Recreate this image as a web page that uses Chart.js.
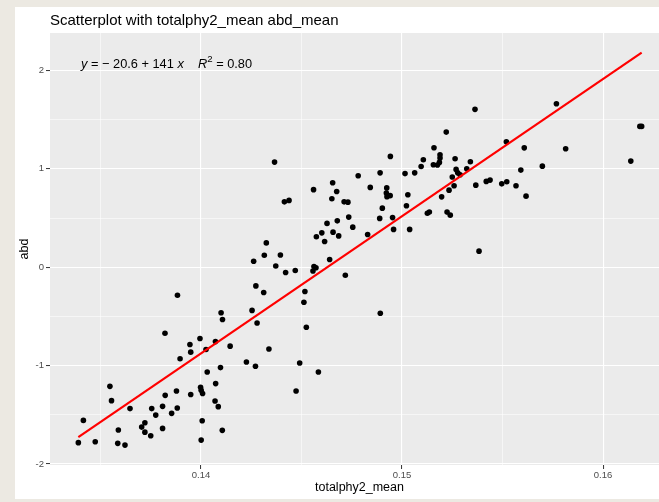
<!DOCTYPE html>
<html><head><meta charset="utf-8">
<script src="https://cdn.jsdelivr.net/npm/chart.js@4/dist/chart.umd.min.js"></script>
<style>
html,body{margin:0;padding:0;background:#ece9e2;overflow:hidden;width:659px;height:502px}
#card{position:absolute;left:15px;top:7px;width:660px;height:492px;background:#fff}
canvas{display:block}
</style></head><body>
<div id="card"><canvas id="c" width="660" height="492"></canvas></div>
<script>
const totalphy2 = [
0.13390,0.13415,0.13474,0.13547,0.13555,0.13589,0.13586,0.13622,0.13647,0.13705,
0.13721,0.13721,0.13750,0.13755,0.13775,0.13809,0.13809,0.13822,0.13854,0.13878,
0.13882,0.13949,0.13998,0.14001,0.14008,0.14006,0.14001,0.14031,0.13821,0.13883,
0.13896,0.13945,0.13949,0.13995,0.14025,0.14072,0.14073,0.14070,0.14086,0.14097,
0.14100,0.14107,0.14106,0.14145,0.14226,0.14254,0.14273,0.14279,0.14271,0.14312,
0.14338,0.14366,0.14415,0.14438,0.14325,0.14315,0.14395,0.14262,0.14372,0.14421,
0.14469,0.14562,0.14572,0.14557,0.14640,0.14718,0.14517,0.14512,0.14524,0.14892,
0.14491,0.14584,0.14473,0.14942,0.14782,0.14891,0.15015,0.14655,0.14560,0.14675,
0.14842,0.14924,0.14922,0.14925,0.14941,0.15029,0.14651,0.14712,0.14731,0.14902,
0.15022,0.14735,0.14889,0.14953,0.14678,0.14627,0.14755,0.15038,0.14958,0.14601,
0.14657,0.14574,0.14685,0.14615,0.14829,
0.15363,0.15220,0.15159,0.15189,0.15189,0.15186,0.15156,0.15176,0.15106,0.15095,
0.15264,0.15340,0.15322,0.15269,0.15277,0.15289,0.15250,0.15063,0.15259,0.15234,
0.15197,0.15367,0.15419,0.15438,0.15496,0.15521,0.15567,0.15519,0.15608,0.15591,
0.15617,0.15126,0.15136,0.15224,0.15240,0.15383,0.15768,0.15814,0.15698,0.16138,
0.16183,0.16192];
const abd = [
-1.783,-1.557,-1.773,-1.211,-1.356,-1.655,-1.790,-1.808,-1.437,-1.625,
-1.580,-1.676,-1.712,-1.437,-1.503,-1.414,-1.638,-1.302,-1.485,-1.258,
-1.431,-1.294,-1.221,-1.251,-1.284,-1.560,-1.757,-1.065,-0.671,-0.285,
-0.931,-0.786,-0.863,-0.724,-0.837,-0.756,-1.183,-1.360,-1.417,-1.020,
-0.463,-0.532,-1.658,-0.802,-0.964,-0.439,-0.190,-0.567,-1.007,-0.257,
-0.831,1.068,0.664,0.679,0.247,0.122,0.124,0.061,0.012,-0.054,
-0.034,0.007,-0.005,-0.038,0.079,-0.081,-0.247,-0.356,-0.610,-0.468,
-0.974,-1.065,-1.258,1.126,0.929,0.959,0.951,0.858,0.788,0.770,
0.811,0.806,0.753,0.717,0.727,0.736,0.695,0.664,0.661,0.600,
0.624,0.509,0.496,0.504,0.471,0.445,0.407,0.384,0.384,0.349,
0.356,0.310,0.318,0.261,0.333,
1.604,1.373,1.214,1.142,1.109,1.065,1.041,1.038,1.092,1.024,
1.102,1.071,1.000,0.994,0.959,0.939,0.916,0.959,0.827,0.783,
0.715,0.834,0.872,0.885,0.847,0.868,0.827,1.275,1.213,0.987,
0.722,0.549,0.560,0.560,0.529,0.163,1.661,1.203,1.027,1.078,
1.431,1.431];
const fitX = [0.13390, 0.16192];
const fitY = [-1.726, 2.180];
const xTicks = [0.135, 0.14, 0.145, 0.15, 0.155, 0.16];
const xMajorLabels = ['0.14', '0.15', '0.16'];
const yTicks = [-2, -1.5, -1, -0.5, 0, 0.5, 1, 1.5, 2];
const yMajorLabels = ['-2', '-1', '0', '1', '2'];
const titleText = 'Scatterplot with totalphy2_mean abd_mean';
const xTitle = 'totalphy2_mean';
const yTitle = 'abd';

const FONT = '"Liberation Sans", Arial, sans-serif';
const isMajorX = v => Math.abs(v * 100 - Math.round(v * 100)) < 1e-6;
const isMajorY = v => Math.abs(v - Math.round(v)) < 1e-6;

const points = totalphy2.map((x, i) => ({x: x, y: abd[i]}));
const fitLine = fitX.map((x, i) => ({x: x, y: fitY[i]}));

const decor = {
  id: 'decor',
  beforeDraw(chart) {
    const {ctx, chartArea: a} = chart;
    ctx.save();
    ctx.fillStyle = '#ebebeb';
    ctx.fillRect(a.left, a.top, a.right - a.left, a.bottom - a.top);
    ctx.restore();
  },
  afterDraw(chart) {
    const {ctx, chartArea: a} = chart;
    ctx.save();
    ctx.fillStyle = '#000';
    ctx.textBaseline = 'middle';
    ctx.font = '15px ' + FONT;
    ctx.textAlign = 'left';
    ctx.fillText(titleText, a.left, 14);
    ctx.font = '12.5px ' + FONT;
    ctx.textAlign = 'center';
    ctx.fillText(xTitle, (a.left + a.right) / 2, 481);
    ctx.save();
    ctx.translate(10, (a.top + a.bottom) / 2);
    ctx.rotate(-Math.PI / 2);
    ctx.fillText(yTitle, 0, 0);
    ctx.restore();
    const fs = 12.8;
    const parts = [
      {t: 'y', it: true}, {t: ' = \u2212 20.6 + 141 '}, {t: 'x', it: true},
      {t: '    '}, {t: 'R', it: true}, {t: '2', sup: true}, {t: ' = 0.80'}
    ];
    let x = a.left + 31;
    const y = a.top + 31;
    ctx.textAlign = 'left';
    for (const p of parts) {
      const size = p.sup ? fs * 0.75 : fs;
      ctx.font = (p.it ? 'italic ' : '') + size + 'px ' + FONT;
      ctx.fillText(p.t, x, p.sup ? y - 5 : y);
      x += ctx.measureText(p.t).width;
    }
    ctx.restore();
  }
};

new Chart(document.getElementById('c'), {
  data: {
    datasets: [
      {type: 'line', data: fitLine, borderColor: '#ff0000', borderWidth: 2.2,
       pointRadius: 0, fill: false, order: 0, tension: 0},
      {type: 'scatter', data: points, backgroundColor: '#000', borderColor: '#000',
       borderWidth: 0, pointRadius: 2.8, order: 1}
    ]
  },
  options: {
    responsive: false,
    animation: false,
    devicePixelRatio: 1,
    layout: {padding: {top: 26, right: 6, left: 0, bottom: 0}},
    plugins: {legend: {display: false}, tooltip: {enabled: false}, title: {display: false}},
    scales: {
      x: {
        type: 'linear', min: 0.13249, max: 0.16328,
        afterBuildTicks: s => { s.ticks = xTicks.map(v => ({value: v})); },
        afterFit: s => { s.height = 34; },
        border: {display: false},
        grid: {
          color: '#ffffff',
          lineWidth: c => isMajorX(c.tick.value) ? 1.1 : 0.55,
          tickColor: c => isMajorX(c.tick.value) ? '#333333' : 'rgba(0,0,0,0)',
          tickLength: 4, tickWidth: 1
        },
        ticks: {
          autoSkip: false, maxRotation: 0, padding: 1,
          color: '#4d4d4d', font: {family: FONT, size: 9.5},
          callback: v => isMajorX(v) ? xMajorLabels[Math.round(v * 100) - 14] : ''
        }
      },
      y: {
        type: 'linear', min: -2.01, max: 2.38,
        afterBuildTicks: s => { s.ticks = yTicks.map(v => ({value: v})); },
        afterFit: s => { s.width = 35; },
        border: {display: false},
        grid: {
          color: '#ffffff',
          lineWidth: c => isMajorY(c.tick.value) ? 1.1 : 0.55,
          tickColor: c => isMajorY(c.tick.value) ? '#333333' : 'rgba(0,0,0,0)',
          tickLength: 4, tickWidth: 1
        },
        ticks: {
          autoSkip: false, padding: 2,
          color: '#4d4d4d', font: {family: FONT, size: 9.5},
          callback: v => isMajorY(v) ? yMajorLabels[Math.round(v) + 2] : ''
        }
      }
    }
  },
  plugins: [decor]
});
</script>
</body></html>
